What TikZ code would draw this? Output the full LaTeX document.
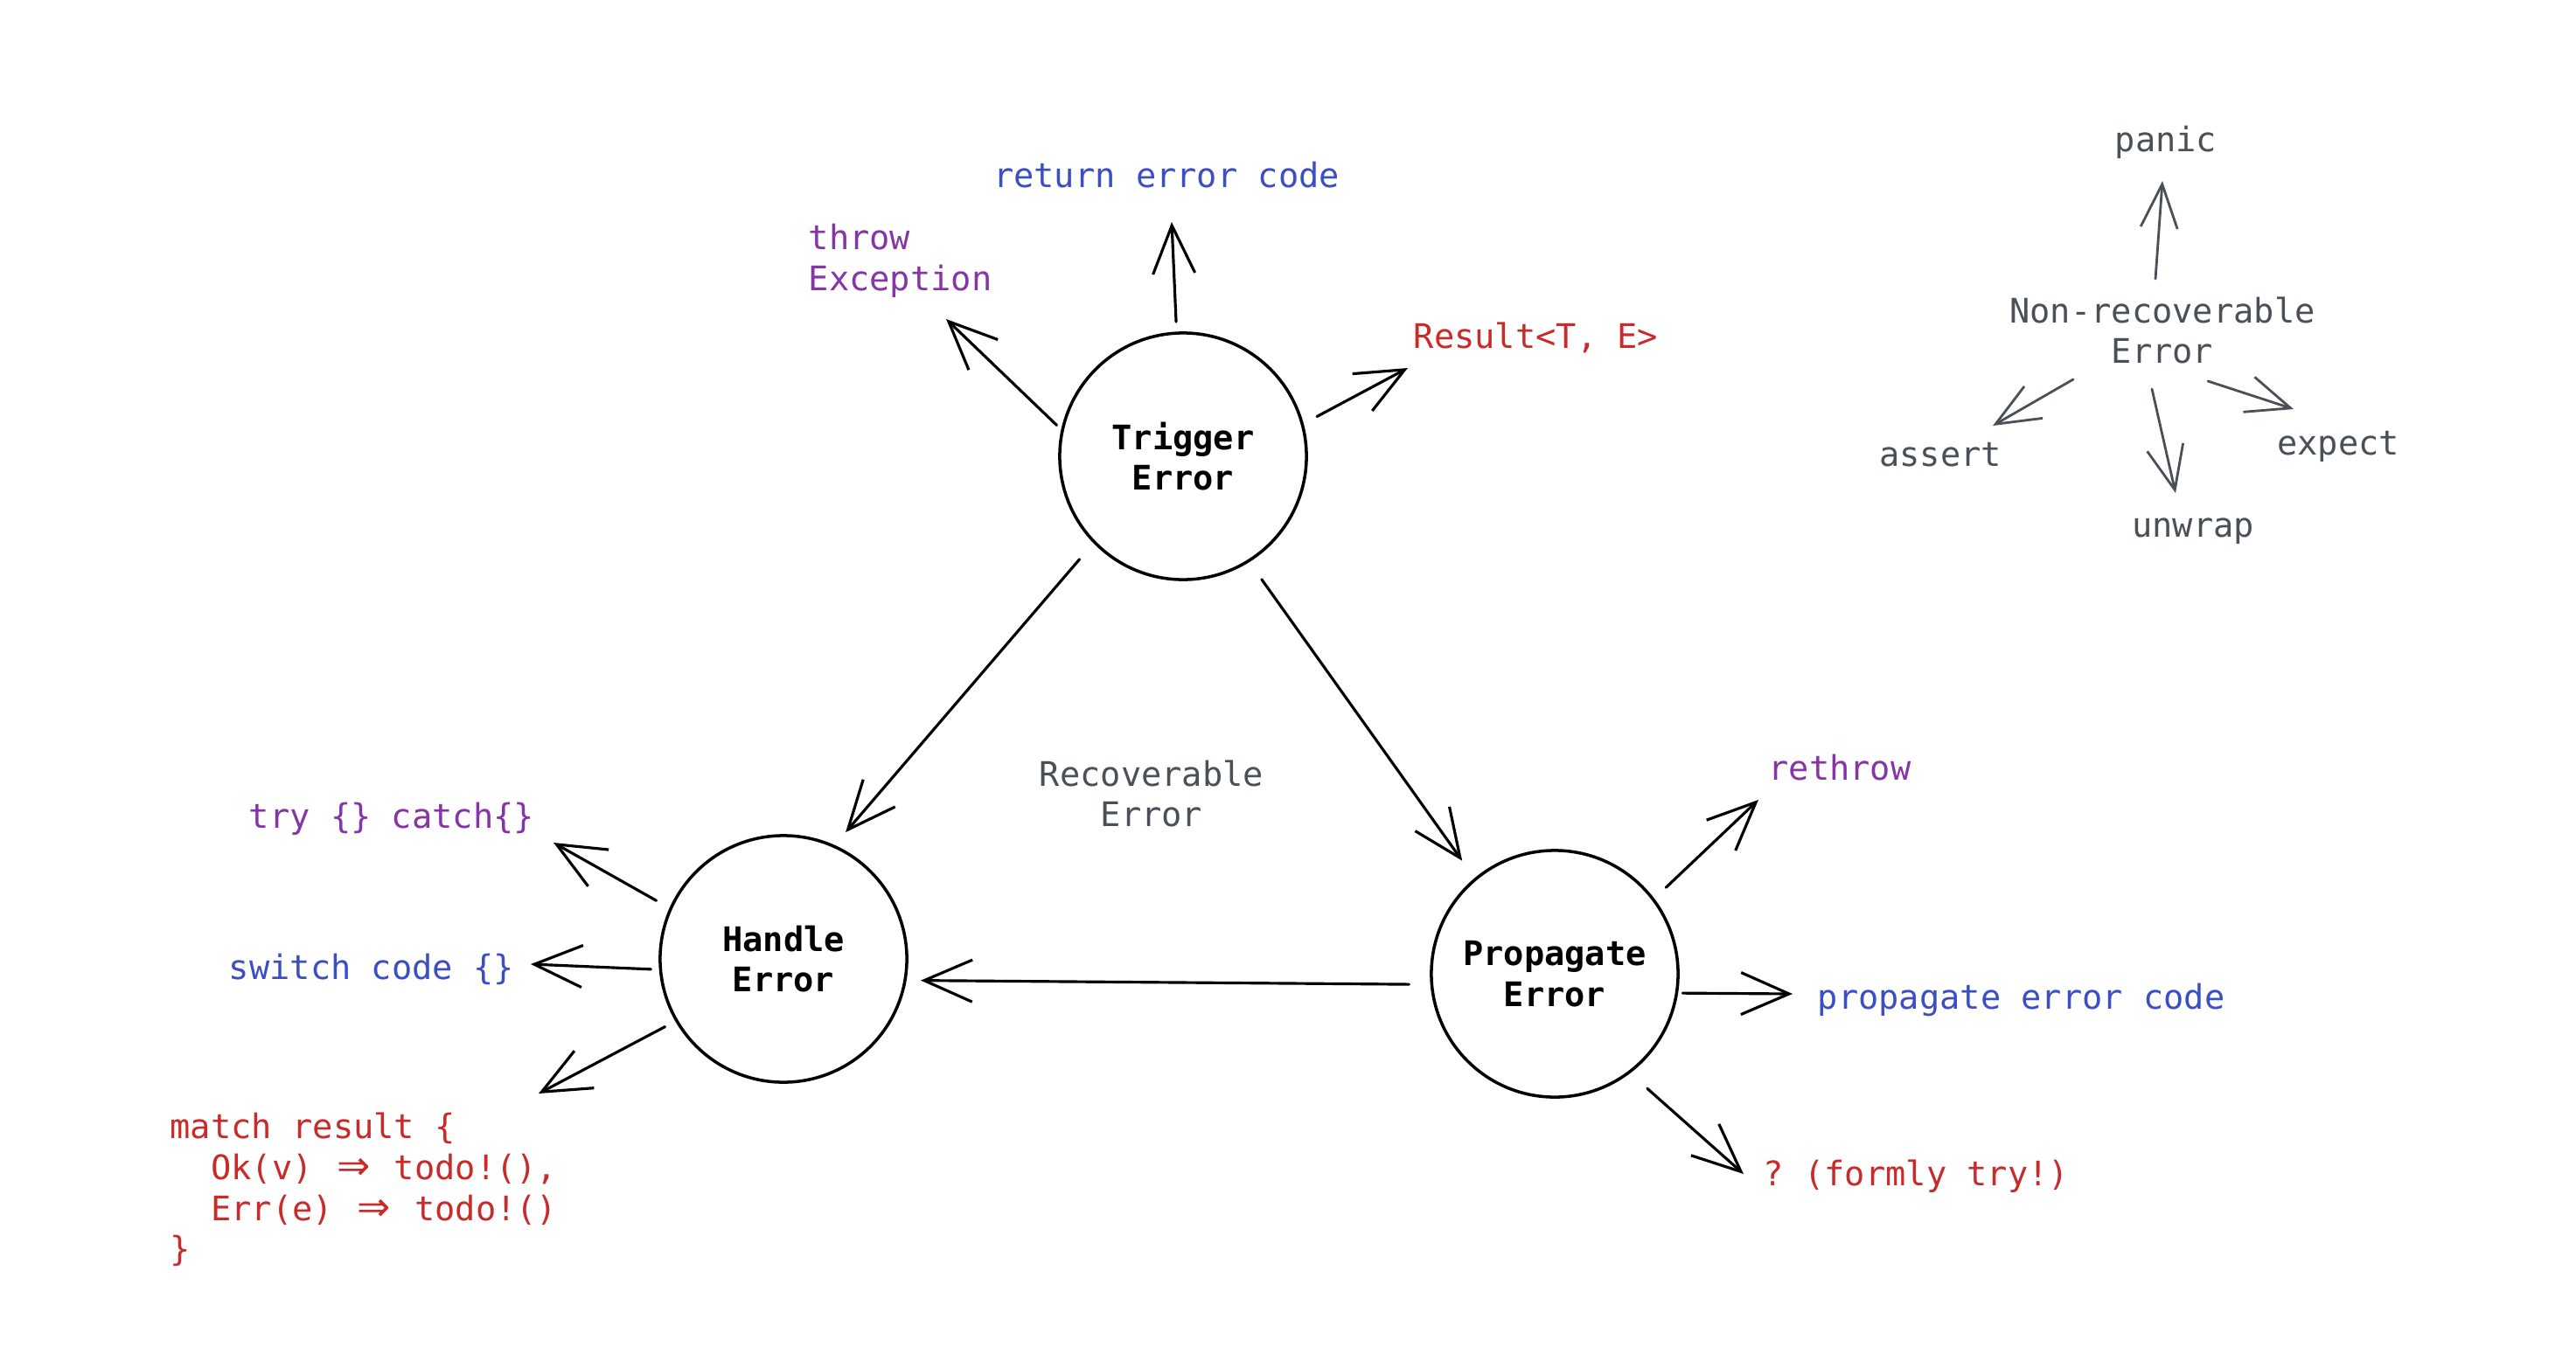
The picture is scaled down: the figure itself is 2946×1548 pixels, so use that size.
\documentclass[tikz,border=0pt]{standalone}
\usepackage{fontspec}
\setmonofont{DejaVu Sans Mono}
\newfontfamily\arrfont{DejaVu Sans}
\usetikzlibrary{arrows.meta}
\definecolor{cblue}{HTML}{3B4EC4}
\definecolor{cpurple}{HTML}{8535A5}
\definecolor{cred}{HTML}{C92A2A}
\definecolor{cgray}{HTML}{495057}
\newcommand{\dar}{\makebox[1.204em]{\arrfont\fontsize{13}{13}\selectfont ⇒}}
\newcommand{\ind}{\hspace*{1.204em}}
\begin{document}
\begin{tikzpicture}[x=0.01cm,y=-0.01cm,
  lbl/.style={font=\ttfamily\fontsize{11}{13.3}\selectfont, inner sep=0pt},
  state/.style={circle, draw=black, line width=1pt, minimum size=2.82cm, inner sep=0pt, outer sep=0pt, align=center, font=\ttfamily\bfseries\fontsize{11}{13.3}\selectfont},
  arr/.style={line width=0.9pt, line cap=round, -{Straight Barb[length=0.55cm,width=0.48cm]}},
  garr/.style={line width=0.8pt, line cap=round, draw=cgray, -{Straight Barb[length=0.5cm,width=0.42cm]}}]
\fill[white] (0,0) rectangle (2946,1548);
\useasboundingbox (0,0) rectangle (2946,1548);

% states
\node[state] (trig) at (1353,522) {Trigger\\Error};
\node[state] (hand) at (896,1097) {Handle\\Error};
\node[state] (prop) at (1778,1114) {Propagate\\Error};

% labels
\node[lbl, text=cblue, anchor=base] (ret) at (1334,214) {return error code};
\node[lbl, text=cpurple, align=left, anchor=west] (throw) at (924,298) {throw\\Exception};
\node[lbl, text=cred, anchor=base west] (res) at (1616,398) {Result<T, E>};
\node[lbl, text=cgray, align=center] (recov) at (1317,908) {Recoverable\\Error};
\node[lbl, text=cpurple, anchor=base] (try) at (448,947) {try \{\} catch\{\}};
\node[lbl, text=cblue, anchor=base] (sw) at (425,1120) {switch code \{\}};
\node[lbl, text=cred, align=left, anchor=west] (match) at (194,1361) {match result \{\\\ind Ok(v) \dar{} todo!(),\\\ind Err(e) \dar{} todo!()\\\}};
\node[lbl, text=cpurple, anchor=base] (reth) at (2104,892) {rethrow};
\node[lbl, text=cblue, anchor=base west] (pec) at (2078,1154) {propagate error code};
\node[lbl, text=cred, anchor=base west] (q) at (2016,1356) {? (formly try!)};
\node[lbl, text=cgray, anchor=base] (panic) at (2477,173) {panic};
\node[lbl, text=cgray, align=center] (nonrec) at (2473,378) {Non-recoverable\\Error};
\node[lbl, text=cgray, anchor=base] (assert) at (2219,533) {assert};
\node[lbl, text=cgray, anchor=base] (unwrap) at (2508,614) {unwrap};
\node[lbl, text=cgray, anchor=base] (expect) at (2674,520) {expect};

% arrow ends near labels
\coordinate (tRet) at (1340,254);
\coordinate (tThrow) at (1082,365);
\coordinate (tRes) at (1610,421);
\coordinate (tTry) at (633,964);
\coordinate (tSw) at (607,1103);
\coordinate (tMatch) at (616,1251);
\coordinate (tReth) at (2011,915);
\coordinate (tPec) at (2050,1137);
\coordinate (tQ) at (1994,1343);
\coordinate (sPanic) at (2465,319);
\coordinate (tPanic) at (2473,207);
\coordinate (sAssert) at (2371,434);
\coordinate (tAssert) at (2279,487);
\coordinate (sUnwrap) at (2461,445);
\coordinate (tUnwrap) at (2488,564);
\coordinate (sExpect) at (2525,436);
\coordinate (tExpect) at (2623,468);

% trigger
\draw[arr, shorten <=0.13cm] (trig.93) -- (tRet);
\draw[arr, shorten <=0.09cm] (trig.168.5) -- (tThrow);
\draw[arr, shorten <=0.19cm] (trig.15.6) -- (tRes);
\draw[arr, shorten <=0.26cm, shorten >=0.21cm] (trig.224.5) -- (hand.66.6);
\draw[arr, shorten <=0.26cm, shorten >=0.26cm] (trig.302.5) -- (prop.130.2);
\draw[arr, shorten <=0.26cm, shorten >=0.18cm] (prop.185.8) -- (hand.350.2);
% handle
\draw[arr, shorten <=0.19cm] (hand.156.3) -- (tTry);
\draw[arr, shorten <=0.11cm] (hand.185) -- (tSw);
\draw[arr, shorten <=0.15cm] (hand.210.7) -- (tMatch);
% propagate
\draw[arr, shorten <=0.20cm] (prop.37.9) -- (tReth);
\draw[arr, shorten <=0.07cm] (prop.351.8) -- (tPec);
\draw[arr, shorten <=0.28cm] (prop.307.5) -- (tQ);
% non-recoverable
\draw[garr] (sPanic) -- (tPanic);
\draw[garr] (sAssert) -- (tAssert);
\draw[garr] (sUnwrap) -- (tUnwrap);
\draw[garr] (sExpect) -- (tExpect);
\end{tikzpicture}
\end{document}
